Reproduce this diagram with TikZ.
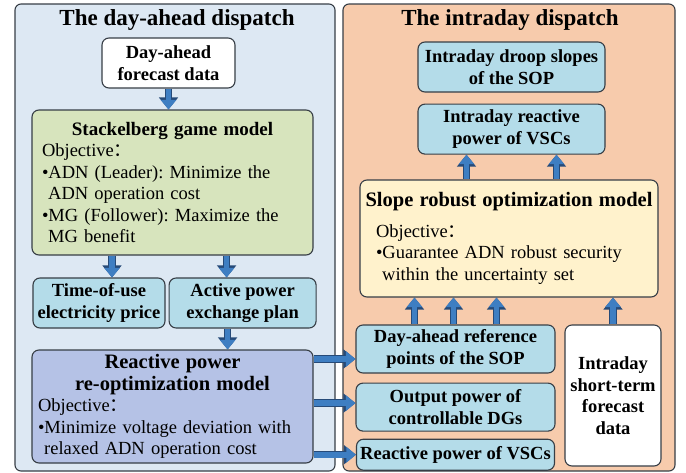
\documentclass[tikz,border=0pt]{standalone}
\usepackage{fontspec}
\setmainfont{Liberation Serif}
\newfontfamily\cjk{Noto Sans CJK SC}
\usetikzlibrary{arrows.meta,positioning}

\definecolor{leftbg}{RGB}{221,232,243}
\definecolor{rightbg}{RGB}{247,203,172}
\definecolor{gamegreen}{RGB}{215,228,189}
\definecolor{lightblue}{RGB}{180,220,233}
\definecolor{reoptblue}{RGB}{181,194,230}
\definecolor{robustcream}{RGB}{255,242,204}
\definecolor{arrowblue}{RGB}{62,126,194}
\definecolor{arrowedge}{RGB}{38,74,120}
\definecolor{boxline}{RGB}{55,62,70}

\newcommand{\objcolon}{{\cjk ：}}
\frenchspacing

\begin{document}
\begin{tikzpicture}[x=1pt,y=-1pt,
    box/.style={draw=boxline,line width=1.1pt,rounded corners=7pt,align=center,inner sep=2pt,
      font=\bfseries\fontsize{18.5}{21.5}\selectfont},
    modelbox/.style={box,align=left,font=\fontsize{18.5}{21.5}\selectfont},
    panel/.style={draw=boxline,line width=1.1pt,rounded corners=6pt},
    title/.style={font=\bfseries\fontsize{23}{26}\selectfont},
    bigarrow/.style={draw=arrowblue,line width=5.6pt,-{Triangle[length=9.5pt,width=15pt]},
      preaction={draw=arrowedge,line width=7.4pt,-{Triangle[length=12pt,width=18.5pt]}}}]
  \useasboundingbox (0,0) rectangle (686,472);
  % the two stages
  \draw[panel,fill=leftbg] (15,4) rectangle (335,471);
  \draw[panel,fill=rightbg] (343,4) rectangle (675,471);
  \node (T1) [title] at (177,20) {The day-ahead dispatch};
  \node (T2) [title] at (510,20) {The intraday dispatch};

  % day-ahead
  \node (F1) [box,fill=white,minimum width=133pt,minimum height=50pt] at (168.5,63) {Day-ahead\\forecast data};
  \node (SG) [modelbox,fill=gamegreen,text width=261pt,inner xsep=10pt,minimum height=145pt] at (172.5,182.5)
    {\centerline{\bfseries\fontsize{19}{21.5}\selectfont Stackelberg game model}
     Objective\objcolon\\
     •ADN (Leader): Minimize the\\
     \ ADN operation cost\\
     •MG (Follower): Maximize the\\
     \ MG benefit};
  \node (TOU) [box,fill=lightblue,minimum width=132pt,minimum height=50pt] at (99,303) {Time-of-use\\electricity price};
  \node (APE) [box,fill=lightblue,minimum width=147pt,minimum height=50pt,right=3pt of TOU] {Active power\\exchange plan};
  \node (RPO) [modelbox,fill=reoptblue,text width=269pt,inner xsep=6pt,minimum height=113pt] at (172.5,406.5)
    {\centerline{\bfseries\fontsize{20.5}{21}\selectfont Reactive power}
     \centerline{\bfseries\fontsize{20.5}{21}\selectfont re-optimization model}
     Objective\objcolon\\
     •Minimize voltage deviation with\\
     \ relaxed ADN operation cost};

  % intraday
  \node (DS) [box,fill=lightblue,minimum width=187pt,minimum height=50pt] at (511.5,67) {Intraday droop slopes\\of the SOP};
  \node (IRP) [box,fill=lightblue,minimum width=187pt,minimum height=50pt,below=11pt of DS] {Intraday reactive\\power of VSCs};
  \node (SRO) [modelbox,fill=robustcream,text width=266pt,inner xsep=16pt,minimum height=117pt] at (509,238.5)
    {\centerline{\bfseries\fontsize{20.5}{21}\selectfont Slope robust optimization model}\vspace{9pt}
     Objective\objcolon\\
     •Guarantee ADN robust security\\
     \ within the uncertainty set};
  \node (REF) [box,fill=lightblue,minimum width=199pt,minimum height=48pt] at (455.5,349) {Day-ahead reference\\points of the SOP};
  \node (OUT) [box,fill=lightblue,minimum width=199pt,minimum height=48pt,below=9pt of REF] {Output power of\\controllable DGs};
  \node (VSC) [box,fill=lightblue,minimum width=198pt,minimum height=31pt,below=7pt of OUT] {Reactive power of VSCs};
  \node (F2) [box,fill=white,minimum width=96pt,minimum height=141pt] at (613,395.5) {Intraday\\short-term\\forecast\\data};

  % arrows
  \draw[bigarrow] (F1.south) -- (F1.south |- SG.north);
  \path ([xshift=13pt]TOU.north) coordinate (a1)
        ([xshift=-16pt]APE.north) coordinate (a2)
        ([xshift=-15pt]APE.south) coordinate (a3);
  \draw[bigarrow] (SG.south -| a1) -- (a1);
  \draw[bigarrow] (SG.south -| a2) -- (a2);
  \draw[bigarrow] (a3) -- (a3 |- RPO.north);
  \path ([yshift=-10pt]REF.west) coordinate (b1)
        ([yshift=4pt]OUT.west) coordinate (b2);
  \draw[bigarrow] (RPO.east |- b1) -- (b1);
  \draw[bigarrow] (RPO.east |- b2) -- (b2);
  \draw[bigarrow] (RPO.east |- VSC.west) -- (VSC.west);
  \foreach \dx in {-41,-2,41} {
    \path ([xshift=\dx pt]REF.north) coordinate (c);
    \draw[bigarrow] (c) -- (c |- SRO.south);
  }
  \draw[bigarrow] (F2.north) -- (F2.north |- SRO.south);
  \foreach \dx in {-45,45} {
    \path ([xshift=\dx pt]IRP.south) coordinate (d);
    \draw[bigarrow] (d |- SRO.north) -- (d);
  }
\end{tikzpicture}
\end{document}
